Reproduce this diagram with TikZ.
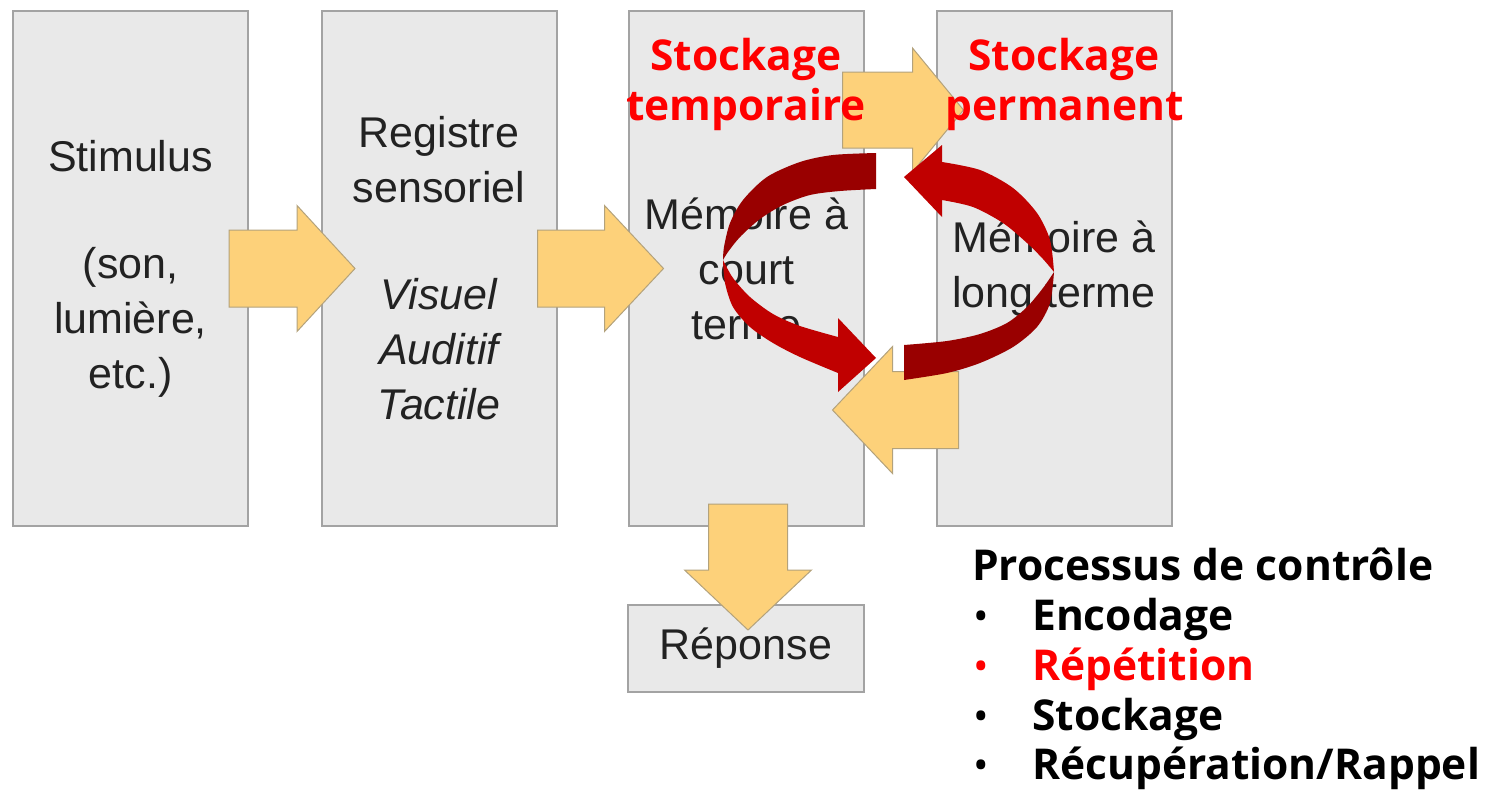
\documentclass[tikz,border=0pt]{standalone}
\usepackage{fontspec}
\setmainfont{Liberation Sans}
% heavy sans for the labels, with fallbacks
\IfFontExistsTF{NotoSans-Bold.ttf}
  {\newfontfamily\labelfont{NotoSans-Bold.ttf}}
  {\IfFontExistsTF{Open Sans Bold}
    {\newfontfamily\labelfont{Open Sans Bold}}
    {\newfontfamily\labelfont{Noto Sans}[FakeBold=2.5]}}
\usetikzlibrary{calc}
\definecolor{boxfill}{HTML}{E9E9E9}
\definecolor{boxline}{HTML}{A3A3A3}
\definecolor{yfill}{HTML}{FDD17A}
\definecolor{yline}{HTML}{B3A27C}
\definecolor{backred}{HTML}{990000}
\definecolor{frontred}{HTML}{C00000}
\definecolor{ink}{HTML}{222222}
\definecolor{hot}{HTML}{FF0000}

% fat yellow arrow: #1 centre, #2 angle, #3 half length, #4 head length,
% #5 shaft half width, #6 head half width
\newcommand{\fatarrow}[6]{%
  \filldraw[fat, shift={#1}, rotate=#2]
    (-#3,-#5) -- ({#3-#4},-#5) -- ({#3-#4},-#6) -- (#3,0)
    -- ({#3-#4},#6) -- ({#3-#4},#5) -- (-#3,#5) -- cycle;}

\begin{document}
\begin{tikzpicture}[x=1pt,y=-1pt,
  stage/.style={draw=boxline, line width=2pt, fill=boxfill,
    minimum width=235pt, minimum height=515pt, align=center,
    text=ink, inner sep=0pt, font=\fontsize{43}{55}\selectfont},
  fat/.style={fill=yfill, draw=yline, line width=1pt, line join=miter},
  lab/.style={anchor=base, inner sep=0pt,
    font=\labelfont\fontsize{42.5}{50}\selectfont},
  dot/.style={anchor=base, inner sep=0pt,
    font=\labelfont\fontsize{32}{40}\selectfont},
]
\useasboundingbox (0,0) rectangle (1497,790);

% the four stages of the model
\node[stage] (stim) at (130.5,268.5)
  {Stimulus\\[52pt](son,\\lumière,\\etc.)};
\node[stage] (reg) at (439,268.5)
  {Registre\\sensoriel\\[52pt]\itshape Visuel\\\itshape Auditif\\\itshape Tactile};
\node[stage] (court) at (746.5,268.5) {Mémoire à\\court\\terme};
\node[stage] (long) at (1054,268.5) {Mémoire à\\long terme};
\node[stage, minimum width=236pt, minimum height=87pt] (rep) at (746,648.5) {Réponse};

% transfer arrows
\coordinate (a1) at ($(stim.east)+(43,0)$);
\coordinate (a2) at ($(reg.east)+(43,0)$);
\coordinate (a3) at ($(court.north east)+(38,100)$);
\coordinate (a4) at ($(court.east)+(30.5,141.5)$);
\coordinate (a5) at ($(court.south)+(1.5,40)$);
\fatarrow{(a1)}{0}{63}{58}{38.5}{63}
\fatarrow{(a2)}{0}{63}{59}{38.5}{63}
\fatarrow{(a3)}{0}{60.5}{51}{38}{62}
\fatarrow{(a4)}{180}{63}{60}{38.5}{63.5}
\fatarrow{(a5)}{-90}{63}{60}{39.5}{63.5}

% storage labels
\node[lab, text=hot] (t1) at (746,70) {Stockage};
\node[lab, text=hot] (t2) at (746,120) {temporaire};
\node[lab, text=hot] (p1) at (1064,70) {Stockage};
\node[lab, text=hot] (p2) at (1065,120) {permanent};

% rehearsal loop: left arrow, back half then front half with head
\fill[backred] (876,153) -- plot[smooth] coordinates
  {(876,153) (833,155) (800,162) (767,177) (743,200) (730,223) (724,247) (723,260)}
  -- plot[smooth] coordinates
  {(723,260) (728,252) (740,237) (760,219) (783,205) (810,195) (840,191) (876,189)}
  -- cycle;
\fill[frontred] (723,260) -- plot[smooth] coordinates
  {(723,260) (725,283) (733,307) (750,327) (773,343) (800,357) (838,373)}
  -- (838,392) -- (876,358) -- (838,318) -- (838,337)
  -- plot[smooth] coordinates
  {(838,337) (800,326) (773,314) (750,297) (733,278) (723,260)} -- cycle;
% right arrow, front half with head then back half
\fill[frontred] (904,177) -- (942,145) -- (942,162)
  -- plot[smooth] coordinates
  {(942,162) (980,170) (1013,188) (1037,213) (1050,240) (1054,272)}
  -- plot[smooth] coordinates
  {(1054,272) (1043,259) (1027,243) (1003,223) (973,207) (942,200)}
  -- (942,217) -- cycle;
\fill[backred] (1054,272) -- plot[smooth] coordinates
  {(1054,272) (1050,303) (1037,327) (1013,347) (980,363) (947,373) (904,380)}
  -- (904,345) -- plot[smooth] coordinates
  {(904,345) (947,341) (980,334) (1007,323) (1027,307) (1043,288) (1054,272)}
  -- cycle;

% control processes
\node[lab, anchor=base west] (pc) at (972,580) {Processus de contrôle};
\node[dot] (b1) at (981,627) {•};
\node[lab, anchor=base west] (l1) at (1032,630) {Encodage};
\node[dot, text=hot] (b2) at (981,677) {•};
\node[lab, anchor=base west, text=hot] (l2) at (1032,680) {Répétition};
\node[dot] (b3) at (981,727) {•};
\node[lab, anchor=base west] (l3) at (1032,730) {Stockage};
\node[dot] (b4) at (981,776) {•};
\node[lab, anchor=base west] (l4) at (1032,779) {Récupération/Rappel};
\end{tikzpicture}
\end{document}
